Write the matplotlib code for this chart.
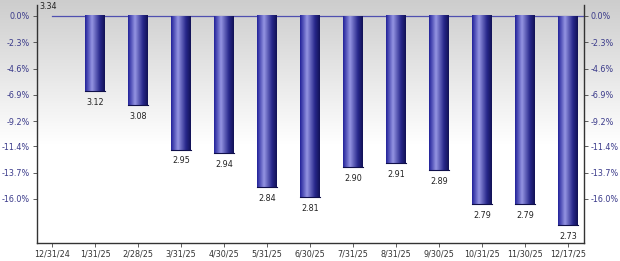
import numpy as np
import matplotlib
matplotlib.use("Agg")
import matplotlib.pyplot as plt
from matplotlib.colors import LinearSegmentedColormap

# --------------------------
# Data
# --------------------------
dates = ["12/31/24", "1/31/25", "2/28/25", "3/31/25", "4/30/25", "5/31/25",
         "6/30/25", "7/31/25", "8/31/25", "9/30/25", "10/31/25", "11/30/25",
         "12/17/25"]
prices = [3.34, 3.12, 3.08, 2.95, 2.94, 2.84, 2.81, 2.90, 2.91, 2.89,
          2.79, 2.79, 2.73]
ytick_vals = [0.0, -2.3, -4.6, -6.9, -9.2, -11.4, -13.7, -16.0]

base = prices[0]
pct = [(p / base - 1) * 100 for p in prices]

FS = 5.8

# --------------------------
# Figure + background gradient
# --------------------------
fig = plt.figure(figsize=(6.2, 2.61), dpi=100)
bg = fig.add_axes([0, 0, 1, 1], zorder=0)
grad = np.linspace(0, 1, 256).reshape(-1, 1)
bg_cmap = LinearSegmentedColormap.from_list(
    "bg", [(0, "#cdcdcd"), (0.55, "#ffffff"), (1, "#ffffff")])
bg.imshow(grad, aspect="auto", cmap=bg_cmap, extent=[0, 1, 0, 1], origin="upper")
bg.axis("off")

# axes box in pixels: left 37, right 584, top 5, bottom 243
W, H = 620, 261
ax = fig.add_axes([37 / W, (H - 243) / H, (584 - 37) / W, (243 - 5) / H], zorder=1)
ax.patch.set_alpha(0)

x = np.arange(len(dates))
width = 0.45
bars = ax.bar(x, pct, width=width, color="none", edgecolor="none", zorder=3)

bar_cmap = LinearSegmentedColormap.from_list(
    "bar", [(0, "#22229a"), (0.35, "#9494e2"), (0.75, "#28288c"), (1, "#121256")])
hgrad = np.linspace(0, 1, 64).reshape(1, -1)
for b in bars:
    h = b.get_height()
    if h == 0:
        continue
    x0 = b.get_x()
    ax.imshow(hgrad, aspect="auto", cmap=bar_cmap,
              extent=[x0, x0 + b.get_width(), h, 0], zorder=3)
    ax.plot([x0, x0 + b.get_width()], [h, h], color="#10104a", lw=0.8, zorder=4)

# zero line
ax.axhline(0, xmin=0.35 / (12.37 + 0.35), color="#5050b0", lw=0.9, zorder=2)

# price labels
for xi, v, p in zip(x, pct, prices):
    y = v - 0.6 if v < 0 else v + 0.45
    va = "top" if v < 0 else "bottom"
    if v == 0:
        xi = xi - 0.1
    ax.text(xi, y, f"{p:.2f}", ha="center", va=va, fontsize=FS, color="#222222")

ax.set_xlim(-0.35, 12.37)
ax.set_ylim(-19.85, 0.96)
ax.set_xticks(x)
ax.set_xticklabels(dates, fontsize=FS, color="#333333")
ax.set_yticks(ytick_vals)
ax.set_yticklabels([f"{v:.1f}%" for v in ytick_vals], fontsize=FS, color="#3a3a8a")
ax.tick_params(axis="y", which="both", left=True, right=True, labelleft=True,
               labelright=True, length=3, width=0.6, color="#444444", pad=2)
ax.tick_params(axis="x", length=3, width=0.6, color="#444444", pad=2)

for s in ["left", "right", "bottom"]:
    ax.spines[s].set_color("#333333")
    ax.spines[s].set_linewidth(1.0)
ax.spines["top"].set_visible(False)

fig.savefig("out.png", dpi=100)
